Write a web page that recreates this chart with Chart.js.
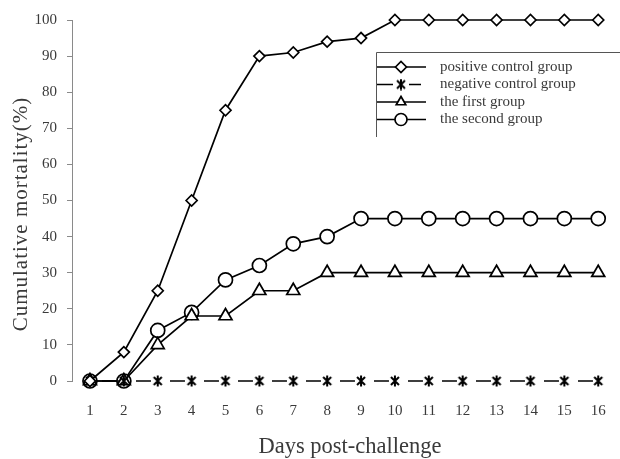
<!DOCTYPE html>
<html>
<head>
<meta charset="utf-8">
<script src="https://cdn.jsdelivr.net/npm/chart.js@4/dist/chart.umd.min.js"></script>
<style>
  html, body { margin: 0; padding: 0; background: #fff; }
  #wrap { width: 620px; height: 459px; }
</style>
</head>
<body>
<div id="wrap"><canvas id="mortChart" width="620" height="459"></canvas></div>
<script>
// Tage und kumulative Mortalität (%)
const days = [1, 2, 3, 4, 5, 6, 7, 8, 9, 10, 11, 12, 13, 14, 15, 16];
const positiveControl = [0, 8, 25, 50, 75, 90, 91, 94, 95, 100, 100, 100, 100, 100, 100, 100];
const negativeControl = [0, 0, 0, 0, 0, 0, 0, 0, 0, 0, 0, 0, 0, 0, 0, 0];
const firstGroup = [0, 0, 10, 18, 18, 25, 25, 30, 30, 30, 30, 30, 30, 30, 30, 30];
const secondGroup = [0, 0, 14, 19, 28, 32, 38, 40, 45, 45, 45, 45, 45, 45, 45, 45];
const seriesLabels = ['positive control group', 'negative control group', 'the first group', 'the second group'];
const yTicks = [0, 10, 20, 30, 40, 50, 60, 70, 80, 90, 100];
const yTitle = 'Cumulative mortality(%)';
const xTitle = 'Days post-challenge';

const serif = '"Liberation Serif", "DejaVu Serif", serif';
const axisGray = '#8a8a8a';
const textGray = '#3a3a3a';

// Sternmarker wie im Original (x mit senkrechtem Strich)
function makeStar() {
    const c = document.createElement('canvas');
    c.width = 12; c.height = 12;
    const g = c.getContext('2d');
    g.strokeStyle = '#000';
    g.lineWidth = 2;
    g.beginPath();
    g.moveTo(2, 2); g.lineTo(10, 10);
    g.moveTo(2, 10); g.lineTo(10, 2);
    g.moveTo(6, 0.5); g.lineTo(6, 11.5);
    g.stroke();
    return c;
}
const starMark = makeStar();

function toPoints(values) {
    return values.map((v, i) => ({ x: days[i], y: v }));
}

function lineDataset(label, values, style, radius, extra) {
    return Object.assign({
        label: label,
        data: toPoints(values),
        borderColor: '#000',
        backgroundColor: '#fff',
        borderWidth: 1.7,
        pointStyle: style,
        pointRadius: radius,
        pointBorderColor: '#000',
        pointBackgroundColor: '#fff',
        pointBorderWidth: 1.7,
        tension: 0,
        fill: false
    }, extra || {});
}

// eigene Legende mit Rahmen oben und links, dazu die Achsentitel
const boxLegend = {
    id: 'boxLegend',
    afterDraw(chart) {
        const ctx = chart.ctx;
        const left = 376, top = 52, bottom = 137, right = 620;
        ctx.save();
        ctx.strokeStyle = '#555';
        ctx.lineWidth = 1;
        ctx.beginPath();
        ctx.moveTo(left + 0.5, bottom);
        ctx.lineTo(left + 0.5, top + 0.5);
        ctx.lineTo(right, top + 0.5);
        ctx.stroke();

        chart.data.datasets.forEach((ds, i) => {
            const y = 67 + i * 17.5;
            ctx.strokeStyle = '#000';
            ctx.lineWidth = 1.7;
            ctx.setLineDash([]);
            ctx.beginPath();
            if (ds.pointStyle === starMark) {
                ctx.moveTo(377, y); ctx.lineTo(393, y);
                ctx.moveTo(409, y); ctx.lineTo(421, y);
            } else {
                ctx.moveTo(377, y); ctx.lineTo(426, y);
            }
            ctx.stroke();
            ctx.fillStyle = '#fff';
            ctx.strokeStyle = '#000';
            Chart.helpers.drawPoint(ctx, {
                pointStyle: ds.pointStyle,
                radius: ds.pointStyle === 'circle' ? 6 : 5.5,
                rotation: 0,
                borderWidth: 1.7
            }, 401, y);

            ctx.fillStyle = textGray;
            ctx.font = '15px ' + serif;
            ctx.textAlign = 'left';
            ctx.textBaseline = 'middle';
            ctx.fillText(ds.label, 440, y);
        });

        // Y-Achsentitel
        ctx.save();
        ctx.translate(21, 214);
        ctx.rotate(-Math.PI / 2);
        ctx.fillStyle = textGray;
        ctx.font = '21px ' + serif;
        ctx.letterSpacing = '1px';
        ctx.textAlign = 'center';
        ctx.textBaseline = 'middle';
        ctx.fillText(yTitle, 0, 0);
        ctx.restore();

        // X-Achsentitel
        ctx.fillStyle = textGray;
        ctx.font = '22.5px ' + serif;
        ctx.textAlign = 'center';
        ctx.textBaseline = 'middle';
        ctx.fillText(xTitle, 350, 447);

        ctx.restore();
    }
};

new Chart(document.getElementById('mortChart').getContext('2d'), {
    type: 'line',
    data: {
        datasets: [
            lineDataset(seriesLabels[0], positiveControl, 'rectRot', 5.5),
            lineDataset(seriesLabels[1], negativeControl, starMark, 6, {
                borderDash: [15, 19],
                borderDashOffset: 22
            }),
            lineDataset(seriesLabels[2], firstGroup, 'triangle', 7.5),
            lineDataset(seriesLabels[3], secondGroup, 'circle', 7)
        ]
    },
    options: {
        responsive: false,
        animation: false,
        clip: false,
        layout: { padding: { top: 20, right: 15, left: 0, bottom: 0 } },
        plugins: {
            legend: { display: false },
            tooltip: { enabled: false }
        },
        scales: {
            x: {
                type: 'linear',
                min: 0.47,
                max: 16.2,
                afterBuildTicks(scale) {
                    scale.ticks = days.map(d => ({ value: d }));
                },
                afterFit(scale) {
                    scale.height = 78;
                    scale.paddingRight = 0;
                    scale.paddingLeft = 0;
                },
                border: { display: false },
                grid: { display: false, drawTicks: false },
                ticks: {
                    color: textGray,
                    font: { family: serif, size: 15 },
                    padding: 21,
                    maxRotation: 0,
                    autoSkip: false,
                    callback: v => String(v)
                }
            },
            y: {
                min: 0,
                max: 100,
                afterBuildTicks(scale) {
                    scale.ticks = yTicks.map(v => ({ value: v }));
                },
                afterFit(scale) { scale.width = 72; },
                border: { display: true, color: axisGray, width: 1 },
                grid: { display: true, drawOnChartArea: false, drawTicks: true, tickLength: 5, color: axisGray },
                ticks: {
                    color: textGray,
                    font: { family: serif, size: 15 },
                    padding: 10
                }
            }
        }
    },
    plugins: [boxLegend]
});
</script>
</body>
</html>
